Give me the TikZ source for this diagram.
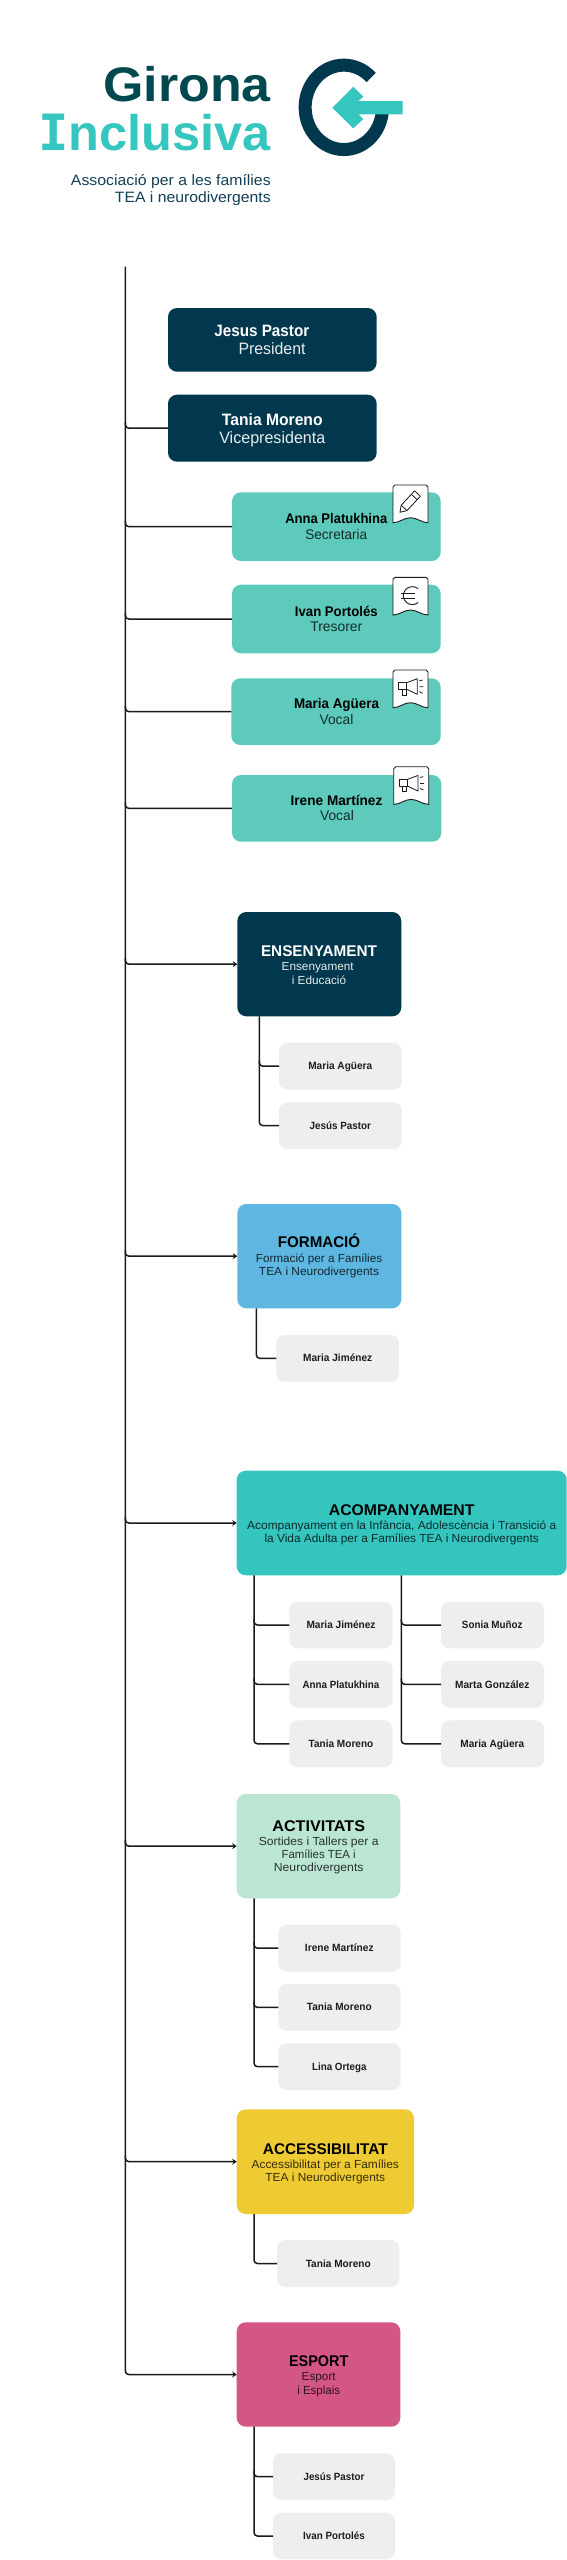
\documentclass[tikz,border=0pt]{standalone}
\usepackage{graphicx}
\usepackage{fontspec}
\setmainfont{Liberation Sans}
\newfontfamily\slabfont{DejaVu Sans Mono}
\usetikzlibrary{arrows.meta}
\definecolor{navy}{HTML}{01384D}
\definecolor{mint}{HTML}{5DCABC}
\definecolor{greybox}{HTML}{EEEEEE}
\definecolor{skyb}{HTML}{5DB7E1}
\definecolor{tealb}{HTML}{34C5BF}
\definecolor{paleg}{HTML}{BAE6D3}
\definecolor{yellowb}{HTML}{EFCB33}
\definecolor{pinkb}{HTML}{D35686}
\definecolor{logoteal}{HTML}{36C6C0}
\definecolor{logodark}{HTML}{02484F}
\definecolor{subnavy}{HTML}{123F55}
\definecolor{linec}{HTML}{1A1A1A}
% box: name, x0, y0, x1, y1, style
\newcommand\bx[6]{\node[#6, minimum width={(#4-#2)*1pt}, minimum height={(#5-#3)*1pt}] (#1) at ({(#2+#4)/2},{(#3+#5)/2}) {};}
% label: name, cx, baseline, width, font size, style, text
\newcommand\lb[7]{\node[lab, #6] (#1) at (#2,#3) {\fontsize{#5}{#5}\selectfont\resizebox{#4pt}{\height}{#7}};}
\tikzset{
  x=1pt, y=-1pt,
  boxbase/.style={inner sep=0pt, outer sep=0pt, rounded corners=9pt, draw=none},
  navybox/.style={boxbase, fill=navy},
  mintbox/.style={boxbase, fill=mint},
  personbox/.style={boxbase, fill=greybox, rounded corners=8.5pt},
  skybox/.style={boxbase, fill=skyb},
  tealbox/.style={boxbase, fill=tealb},
  palebox/.style={boxbase, fill=paleg},
  yellowbox/.style={boxbase, fill=yellowb},
  pinkbox/.style={boxbase, fill=pinkb},
  lab/.style={inner sep=0pt, outer sep=0pt, anchor=base},
  nm/.style={font=\bfseries, text=black},
  wnm/.style={font=\bfseries, text=white},
  wsub/.style={text=white, text opacity=.9},
  dsub/.style={text=black, text opacity=.78},
  pn/.style={font=\bfseries, text=black, text opacity=.88},
  link/.style={draw=linec, line width=1.5pt, rounded corners=3.5pt},
  arlink/.style={link, -{Stealth[length=4.5pt,width=6pt]}},
  badge/.style={draw=linec, fill=white, line width=.9pt},
  icon/.style={draw=linec, line width=.8pt},
}
\newcommand\badgeshape{\draw[badge] (0,37.7) -- (0,2) to[out=-90,in=180] (2,0) -- (33,0) to[out=0,in=-90] (35,2) -- (35,37.7) .. controls (28,37.5) and (24,32.7) .. (17.5,32.7) .. controls (11,32.7) and (7,37.5) .. (0,37.7) -- cycle;}
\newcommand\megaphone{\draw[icon, line join=round] (5.3,12.7) rectangle (13.7,19.3);
 \draw[icon, line join=round] (13.7,12.7) -- (24.3,8.7) -- (24.3,24.3) -- (13.7,19.3);
 \draw[icon] (9,19.3) -- (9,25) -- (13,25) -- (13,19.3);
 \draw[icon] (26.3,10.7) -- (29.7,10) (26.3,16.7) -- (30.3,16.7) (26.3,21.7) -- (29.7,23.3);}
\begin{document}
\begin{tikzpicture}
\useasboundingbox (0,0) rectangle (567,2560);
\fill[white] (0,0) rectangle (567,2560);

% logo
\lb{tgirona}{187}{101.3}{167.4}{48.5}{font=\bfseries, text=logodark}{Girona}
\lb{tinclusiva}{154.5}{150.3}{232.4}{50}{text=logoteal}{\bfseries{\slabfont I}nclusiva}
\node[lab, anchor=base east, text=subnavy] (tassoc) at (270.7,185) {\fontsize{15}{15}\selectfont\resizebox{199.7pt}{\height}{Associació per a les famílies}};
\node[lab, anchor=base east, text=subnavy] (ttea) at (270.7,202.7) {\fontsize{15}{15}\selectfont\resizebox{155.7pt}{\height}{TEA i neurodivergents}};
\draw[navy, line width=13pt] (371.2,77.5) arc[start angle=-45, end angle=-365, x radius=38.7, y radius=42.2];
\fill[logoteal] (332.3,107.7) -- (353.3,86.7) -- (363.3,96.7) -- (358.3,101) -- (402.7,101) -- (402.7,114.3) -- (358.3,114.3) -- (363.3,119) -- (353.3,128.3) -- cycle;

% trunk
\coordinate (tr) at (125.3,266.7);

% board
\bx{jesus}{168}{308}{376.7}{371.7}{navybox}
\bx{tania}{168}{394.7}{376.7}{461.7}{navybox}
\bx{anna}{232}{492.3}{440.7}{561}{mintbox}
\bx{ivan}{232}{584.7}{440.7}{653.3}{mintbox}
\bx{maria}{231.3}{678.3}{440.7}{745}{mintbox}
\bx{irene}{232}{775}{441.3}{841.7}{mintbox}
\lb{tjesus}{261.8}{336.7}{95}{16.5}{wnm}{Jesus Pastor}
\lb{tpres}{272}{354.3}{67}{16.5}{wsub}{President}
\lb{ttania}{272.3}{425.3}{100.7}{16.5}{wnm}{Tania Moreno}
\lb{tvice}{272.3}{443}{106}{16.5}{wsub}{Vicepresidenta}
\lb{tanna}{336.3}{523.3}{102}{14}{nm}{Anna Platukhina}
\lb{tsec}{336.3}{539}{62}{14}{dsub}{Secretaria}
\lb{tivan}{336.3}{616}{82.7}{14}{nm}{Ivan Portolés}
\lb{ttres}{336.3}{631.7}{52}{14}{dsub}{Tresorer}
\lb{tmaria}{336.5}{708.3}{85}{14}{nm}{Maria Agüera}
\lb{tvoc}{336.5}{724}{33.7}{14}{dsub}{Vocal}
\lb{tirene}{336.5}{805.3}{91.7}{14}{nm}{Irene Martínez}
\lb{tvocb}{337}{820.7}{33.7}{14}{dsub}{Vocal}

% badges
\begin{scope}[shift={(393,485)}]
 \badgeshape
 \draw[icon, line join=round] (7,27.3) -- (8.2,20.2) -- (21.6,5.8) -- (27.4,11.2) -- (14,25.6) -- cycle;
 \draw[icon] (24.2,14.7) -- (18.4,9.3) (8.2,20.2) -- (14,25.6);
\end{scope}
\begin{scope}[shift={(393,577.3)}]
 \badgeshape
 \draw[icon, line width=.9pt] (25.1,11.4) arc[start angle=-50, end angle=-310, radius=9];
 \draw[icon, line width=.9pt] (8.3,16) -- (22.3,16) (8.3,20.7) -- (22.3,20.7);
\end{scope}
\begin{scope}[shift={(393,670)}]
 \badgeshape
 \megaphone
\end{scope}
\begin{scope}[shift={(393.7,766.7)}]
 \badgeshape
 \megaphone
\end{scope}

% categories
\bx{ens}{237.3}{912}{401.3}{1016.3}{navybox}
\lb{tens}{319}{956.7}{116}{15.5}{wnm}{ENSENYAMENT}
\lb{tensa}{317.7}{970.7}{72}{11.7}{wsub}{Ensenyament}
\lb{tensb}{319}{984}{54.3}{11.7}{wsub}{i Educació}
\bx{ensA}{279}{1042.7}{401.7}{1089.7}{personbox}
\bx{ensB}{279}{1102.3}{401.7}{1149}{personbox}
\lb{tensA}{340.3}{1069.7}{64}{10.5}{pn}{Maria Agüera}
\lb{tensB}{340.3}{1129}{61.3}{10.5}{pn}{Jesús Pastor}

\bx{form}{237.3}{1204}{401.3}{1308.3}{skybox}
\lb{tform}{319}{1247.7}{82.3}{15.5}{nm}{FORMACIÓ}
\lb{tforma}{319}{1262.3}{126.3}{11.7}{dsub}{Formació per a Famílies}
\lb{tformb}{319}{1275.7}{120}{11.7}{dsub}{TEA i Neurodivergents}
\bx{formA}{276.3}{1335}{399}{1381.7}{personbox}
\lb{tformA}{337.7}{1361.7}{69}{10.5}{pn}{Maria Jiménez}

\bx{aco}{236.7}{1470.7}{566.7}{1575.3}{tealbox}
\lb{taco}{401.7}{1515.3}{145.7}{15.5}{nm}{ACOMPANYAMENT}
\lb{tacoa}{401.7}{1529.3}{309}{11.7}{dsub}{Acompanyament en la Infància, Adolescència i Transició a}
\lb{tacob}{401.7}{1542.7}{274.3}{11.7}{dsub}{la Vida Adulta per a Famílies TEA i Neurodivergents}
\bx{acoA}{289.3}{1601.7}{392.7}{1648.3}{personbox}
\bx{acoB}{289.3}{1661}{392.7}{1707.7}{personbox}
\bx{acoC}{289.3}{1720.3}{392.7}{1767.3}{personbox}
\bx{acoD}{441}{1601.7}{544}{1648.3}{personbox}
\bx{acoE}{441}{1661}{544}{1707.7}{personbox}
\bx{acoF}{441}{1720.3}{544}{1767.3}{personbox}
\lb{tacoA}{341}{1628.7}{69}{10.5}{pn}{Maria Jiménez}
\lb{tacoB}{341}{1688}{76.7}{10.5}{pn}{Anna Platukhina}
\lb{tacoC}{341}{1747.7}{64.7}{10.5}{pn}{Tania Moreno}
\lb{tacoD}{492.3}{1628.7}{60.7}{10.5}{pn}{Sonia Muñoz}
\lb{tacoE}{492.3}{1688}{74.3}{10.5}{pn}{Marta González}
\lb{tacoF}{492.3}{1747.7}{63.7}{10.5}{pn}{Maria Agüera}

\bx{act}{236.7}{1794}{400.3}{1898.3}{palebox}
\lb{tact}{318.7}{1831}{92.7}{15.5}{nm}{ACTIVITATS}
\lb{tacta}{318.7}{1845}{119.7}{11.7}{dsub}{Sortides i Tallers per a}
\lb{tactb}{318.7}{1858.3}{74}{11.7}{dsub}{Famílies TEA i}
\lb{tactc}{318.7}{1871.7}{89.7}{11.7}{dsub}{Neurodivergents}
\bx{actA}{278.3}{1924.7}{400.7}{1971.7}{personbox}
\bx{actB}{278.3}{1984}{400.7}{2030.7}{personbox}
\bx{actC}{278.3}{2043.3}{400.7}{2090}{personbox}
\lb{tactA}{339.3}{1951.3}{68.7}{10.5}{pn}{Irene Martínez}
\lb{tactB}{339.3}{2010.7}{64.7}{10.5}{pn}{Tania Moreno}
\lb{tactC}{339.3}{2070}{54.3}{10.5}{pn}{Lina Ortega}

\bx{acc}{236.7}{2109.3}{414}{2214}{yellowbox}
\lb{tacc}{325.3}{2154}{124.7}{15.5}{nm}{ACCESSIBILITAT}
\lb{tacca}{325.3}{2168}{147.3}{11.7}{dsub}{Accessibilitat per a Famílies}
\lb{taccb}{325.3}{2181.3}{119.7}{11.7}{dsub}{TEA i Neurodivergents}
\bx{accA}{277}{2240}{399.3}{2287}{personbox}
\lb{taccA}{338.3}{2267}{65}{10.5}{pn}{Tania Moreno}

\bx{esp}{236.7}{2322.3}{400.3}{2426.7}{pinkbox}
\lb{tesp}{318.7}{2366.7}{59.3}{15.5}{nm}{ESPORT}
\lb{tespa}{318.7}{2380.7}{34}{11.7}{dsub}{Esport}
\lb{tespb}{318.7}{2394}{42.7}{11.7}{dsub}{i Esplais}
\bx{espA}{273}{2453.3}{395}{2500}{personbox}
\bx{espB}{273}{2512.7}{395}{2559.3}{personbox}
\lb{tespA}{334}{2480}{60.7}{10.5}{pn}{Jesús Pastor}
\lb{tespB}{334}{2539.3}{61.7}{10.5}{pn}{Ivan Portolés}

% trunk and its branches
\draw[arlink] (tr) -- (tr |- esp.west) -- (esp.west);
\foreach \n in {tania,anna,ivan,maria,irene}
  \draw[link] ([yshift=6pt]tr |- \n.west) -- (tr |- \n.west) -- (\n.west);
\foreach \n in {ens,form,aco,act,acc}
  \draw[arlink] ([yshift=6pt]tr |- \n.west) -- (tr |- \n.west) -- (\n.west);

% sub-trees
\coordinate (vens) at (259.3,1016.3);
\draw[link] (vens) -- (vens |- ensB.west) -- (ensB.west);
\draw[link] ([yshift=6pt]vens |- ensA.west) -- (vens |- ensA.west) -- (ensA.west);
\coordinate (vform) at (256.3,1308.3);
\draw[link] (vform) -- (vform |- formA.west) -- (formA.west);
\coordinate (vacoL) at (254,1575.3);
\draw[link] (vacoL) -- (vacoL |- acoC.west) -- (acoC.west);
\foreach \n in {acoA,acoB}
  \draw[link] ([yshift=6pt]vacoL |- \n.west) -- (vacoL |- \n.west) -- (\n.west);
\coordinate (vacoR) at (401.3,1575.3);
\draw[link] (vacoR) -- (vacoR |- acoF.west) -- (acoF.west);
\foreach \n in {acoD,acoE}
  \draw[link] ([yshift=6pt]vacoR |- \n.west) -- (vacoR |- \n.west) -- (\n.west);
\coordinate (vact) at (254,1898.3);
\draw[link] (vact) -- (vact |- actC.west) -- (actC.west);
\foreach \n in {actA,actB}
  \draw[link] ([yshift=6pt]vact |- \n.west) -- (vact |- \n.west) -- (\n.west);
\coordinate (vacc) at (254,2214);
\draw[link] (vacc) -- (vacc |- accA.west) -- (accA.west);
\coordinate (vesp) at (254,2426.7);
\draw[link] (vesp) -- (vesp |- espB.west) -- (espB.west);
\draw[link] ([yshift=6pt]vesp |- espA.west) -- (vesp |- espA.west) -- (espA.west);
\end{tikzpicture}
\end{document}
